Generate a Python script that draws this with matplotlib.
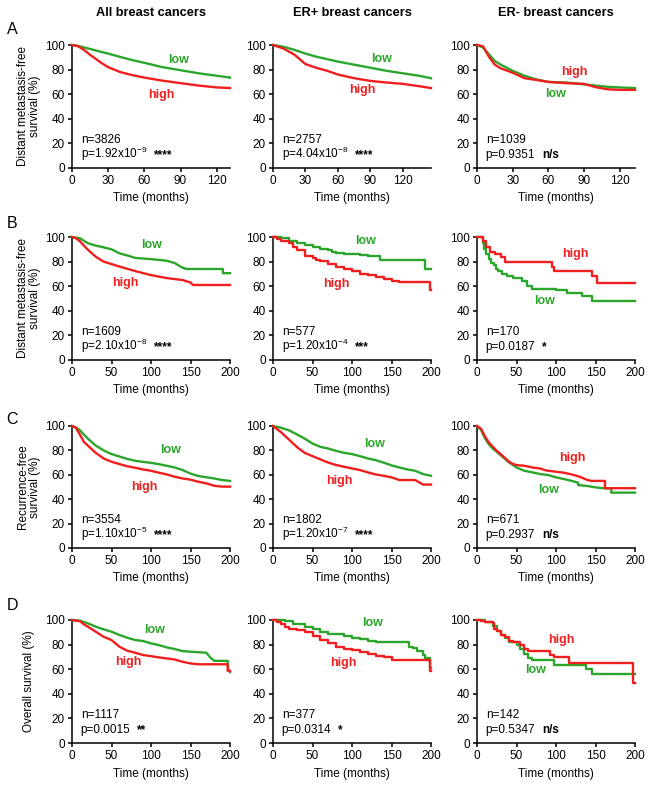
import matplotlib

matplotlib.use("Agg")
import matplotlib.pyplot as plt  # noqa: E402

plt.rcParams["font.family"] = ["Liberation Sans", "DejaVu Sans"]
plt.rcParams["mathtext.fontset"] = "custom"
plt.rcParams["mathtext.rm"] = "Liberation Sans"
plt.rcParams["mathtext.default"] = "regular"

RED = "#f01e1e"
GREEN = "#2ca52c"

# ---- data (time in months, survival in %) ----
# row A: distant metastasis-free survival
a_all_t = [0, 5, 10, 15, 20, 25, 30, 40, 50, 60, 75, 90, 105, 120, 131]
a_all_low = [100, 99.3, 98, 96.8, 95.5, 94.2, 93, 90.3, 87.7, 85.5, 82, 79.5, 77, 75, 73.5]
a_all_high = [100, 99, 96, 92, 88.5, 85, 82, 78, 75.5, 73.5, 71, 69, 67, 65.5, 65]

a_erp_t = [0, 10, 20, 30, 40, 50, 60, 75, 90, 105, 120, 135, 146]
a_erp_low = [100, 98.5, 96, 93, 90.5, 88.5, 86.5, 84, 81.5, 79, 77, 75, 73]
a_erp_high = [100, 97, 92, 84.5, 81.5, 79, 76, 73, 70.8, 69.5, 68.4, 66.5, 65]

a_ern_t = [0, 5, 10, 15, 20, 30, 40, 50, 60, 75, 90, 100, 110, 120, 133]
a_ern_low = [100, 98, 92.5, 87, 84, 79, 75, 72, 70, 69.5, 68, 67, 66, 65.5, 65]
a_ern_high = [100, 99, 90.5, 84, 81, 77.5, 73, 71.6, 70, 69, 68.4, 65.7, 64, 63.5, 63.5]

# row B: distant metastasis-free survival (longer follow-up)
b_all_low_t = [0, 10, 20, 30, 40, 50, 60, 70, 80, 100, 120, 130, 140, 145, 191, 191, 200]
b_all_low = [100, 99, 95, 93, 91.6, 90, 86.7, 85, 83, 82, 80.7, 78.8, 75, 74, 74, 70.6, 70.6]
b_all_high_t = [0, 5, 10, 20, 30, 40, 50, 60, 80, 100, 120, 140, 150, 153, 200]
b_all_high = [100, 99, 96.5, 89.7, 84, 80, 78, 76, 72.3, 69, 66.6, 65, 63, 61, 61]

b_erp_low_t = [0, 10, 20, 30, 40, 50, 60, 70, 75, 80, 90, 100, 110, 120, 135, 140, 192, 200]
b_erp_low = [100, 99.5, 97, 95, 93.5, 92, 90.5, 89.6, 88, 87, 86, 85.8, 85, 84.5, 81.7, 81, 74, 74]
b_erp_high_t = [0, 5, 10, 20, 25, 30, 40, 50, 55, 60, 70, 80, 90, 100, 110, 120, 130, 140,
                150, 160, 199, 200]
b_erp_high = [100, 98, 97, 95.4, 92, 89.4, 84.5, 83, 81, 80.4, 78, 75.7, 73.6, 72.2, 70.3, 69,
              67.6, 66, 64, 63.2, 57, 57]

b_ern_low_t = [0, 7, 9, 12, 15, 18, 21, 24, 27, 32, 38, 45, 57, 63, 70, 100, 114, 133, 145, 200]
b_ern_low = [100, 95, 90, 86, 82, 79, 77, 74, 72, 70, 68, 66.5, 64, 60, 57.8, 56.7, 54.5, 52,
             47.7, 47.7]
b_ern_high_t = [0, 8, 12, 17, 23, 30, 35, 95, 98, 146, 152, 200]
b_ern_high = [100, 97, 92, 88, 86, 84, 80, 76, 72, 68, 63, 63]

# row C: recurrence-free survival
c_all_t = [0, 5, 10, 15, 20, 30, 40, 50, 60, 70, 80, 90, 100, 110, 120, 130, 140, 150, 160,
           170, 180, 190, 200]
c_all_low = [100, 98.8, 96.5, 93, 89.7, 84, 80, 77, 75, 73, 71.5, 70.6, 69.8, 68.7, 67.4, 66,
             63.9, 61, 59, 58, 57, 55.7, 55]
c_all_high = [100, 98.5, 93, 87, 84, 78, 73.4, 70.7, 68.8, 67, 65.8, 64.4, 63.3, 61.7, 60.3,
              58.4, 57, 56, 54.3, 53, 51, 50.3, 50.3]

c_erp_t = [0, 10, 20, 30, 40, 50, 60, 70, 80, 90, 100, 110, 120, 130, 140, 150, 160, 170, 180,
           190, 200]
c_erp_low = [100, 98.6, 96.5, 93.2, 89.7, 85.6, 82.9, 81.5, 79.6, 78, 77, 75.3, 73.4, 72, 70,
             67.7, 66, 64.4, 63.3, 60.6, 59.2]
c_erp_high = [100, 95, 89, 82.9, 78, 75.3, 72.6, 70, 68, 66.6, 65.2, 63.9, 62, 60.3, 59.2, 57.9,
              55.7, 55.7, 55.7, 52, 52]

c_ern_low_t = [0, 5, 10, 15, 20, 25, 30, 40, 50, 60, 70, 80, 90, 100, 110, 120, 128, 128, 140,
               150, 160, 170, 170, 200]
c_ern_low = [100, 97, 90, 85, 81.5, 78.8, 76, 70.5, 66, 63.3, 62, 60.6, 59.8, 57.9, 56.5, 55,
             53.5, 51.6, 50.8, 49.7, 49, 49, 45.4, 45.4]
c_ern_high_t = [0, 5, 10, 15, 20, 25, 30, 40, 45, 50, 60, 70, 80, 85, 90, 100, 110, 120, 130,
                140, 145, 162, 162, 200]
c_ern_high = [100, 97.8, 91.6, 86.4, 83, 79.6, 77, 71, 69, 68, 67.4, 66, 65.2, 64, 63.3, 62.5,
              61.7, 60.3, 58.4, 55.7, 55, 55, 49, 49]

# row D: overall survival
d_all_low_t = [0, 10, 20, 30, 40, 50, 60, 70, 80, 90, 100, 110, 120, 130, 140, 150, 170, 175,
               180, 197, 198, 200]
d_all_low = [100, 99.5, 97.3, 94.6, 92.4, 90.5, 87.8, 85.6, 83.7, 82.9, 81, 79.6, 77.7, 76.4,
             74.7, 74.2, 73.4, 69.6, 66.8, 66.8, 59, 57.6]
d_all_high_t = [0, 10, 15, 20, 30, 40, 50, 60, 70, 80, 90, 100, 110, 120, 130, 140, 150, 160,
                197, 197, 200]
d_all_high = [100, 99, 96.5, 94.6, 90.5, 86.4, 83.7, 78.3, 75, 73.4, 71.5, 70.6, 69.6, 68.7,
              67.9, 66, 64.7, 64, 64, 58.7, 58.7]

d_erp_low_t = [0, 15, 25, 30, 40, 50, 60, 70, 80, 90, 100, 110, 120, 130, 172, 177, 182, 190,
               193, 199, 200]
d_erp_low = [100, 99.5, 97, 96.7, 94.6, 92.4, 90.5, 89, 88.3, 87, 85.6, 84.5, 83.2, 81.8, 78,
             76.9, 75, 71.5, 68.8, 60.6, 60.6]
d_erp_high_t = [0, 5, 10, 15, 20, 30, 40, 50, 60, 70, 80, 90, 100, 110, 120, 130, 140, 150, 199,
                200]
d_erp_high = [100, 98.5, 96.5, 94, 92.4, 91.8, 90, 87.2, 83.7, 81.5, 78.3, 76.4, 75.5, 73.6,
              72.3, 70.9, 69.6, 67.4, 58.7, 58.7]

d_ern_low_t = [0, 10, 20, 25, 30, 35, 40, 50, 55, 60, 65, 70, 97, 138, 145, 200]
d_ern_low = [100, 98.5, 95, 91, 88, 85, 82.5, 80, 76.5, 72, 69, 67.4, 63.3, 59.8, 56, 56]
d_ern_high_t = [0, 5, 10, 20, 22, 25, 30, 35, 40, 45, 55, 60, 65, 93, 98, 116, 197, 200]
d_ern_high = [100, 99, 98, 97.3, 93, 91, 88, 86.4, 83, 82.3, 79.5, 76.6, 74.7, 71.5, 69.6, 65,
              48.4, 48.4]

col_titles = ["All breast cancers", "ER+ breast cancers", "ER- breast cancers"]
row_letters = ["A", "B", "C", "D"]
row_ylabels = ["Distant metastasis-free\nsurvival (%)", "Distant metastasis-free\nsurvival (%)",
               "Recurrence-free\nsurvival (%)", "Overall survival (%)"]
n_labels = [["n=3826", "n=2757", "n=1039"],
            ["n=1609", "n=577", "n=170"],
            ["n=3554", "n=1802", "n=671"],
            ["n=1117", "n=377", "n=142"]]
p_labels = [["p=1.92x10$^{-9}$", "p=4.04x10$^{-8}$", "p=0.9351"],
            ["p=2.10x10$^{-8}$", "p=1.20x10$^{-4}$", "p=0.0187"],
            ["p=1.10x10$^{-5}$", "p=1.20x10$^{-7}$", "p=0.2937"],
            ["p=0.0015", "p=0.0314", "p=0.5347"]]
sig_labels = [["****", "****", "n/s"],
              ["****", "***", "*"],
              ["****", "****", "n/s"],
              ["**", "*", "n/s"]]

# (low_t, low_s, high_t, high_s, drawstyle)
curves = [
    [(a_all_t, a_all_low, a_all_t, a_all_high, "default"),
     (a_erp_t, a_erp_low, a_erp_t, a_erp_high, "default"),
     (a_ern_t, a_ern_low, a_ern_t, a_ern_high, "default")],
    [(b_all_low_t, b_all_low, b_all_high_t, b_all_high, "default"),
     (b_erp_low_t, b_erp_low, b_erp_high_t, b_erp_high, "steps-post"),
     (b_ern_low_t, b_ern_low, b_ern_high_t, b_ern_high, "steps-post")],
    [(c_all_t, c_all_low, c_all_t, c_all_high, "default"),
     (c_erp_t, c_erp_low, c_erp_t, c_erp_high, "default"),
     (c_ern_low_t, c_ern_low, c_ern_high_t, c_ern_high, "default")],
    [(d_all_low_t, d_all_low, d_all_high_t, d_all_high, "default"),
     (d_erp_low_t, d_erp_low, d_erp_high_t, d_erp_high, "steps-post"),
     (d_ern_low_t, d_ern_low, d_ern_high_t, d_ern_high, "steps-post")],
]

# ---- layout (pixels of the 650x785 reference) ----
W, H = 650, 785
row_px = [(45, 168), (237, 360), (426, 548), (620, 743)]
col_px = [72, 273, 477]
ax_w = 158
xmax = [[131, 146, 133], [200, 200, 200], [200, 200, 200], [200, 200, 200]]
letter_y = [30, 223, 419, 605]
# label centres in data coords: (low_x, low_y, high_x, high_y)
label_pos = [
    [(88, 88, 74, 59.5), (100, 89, 82.5, 63.5), (66, 60, 82, 78)],
    [(101, 93.7, 67.5, 62.5), (117, 96.7, 80, 61.8), (86, 47.7, 124, 86)],
    [(125, 80, 91, 50.3), (128.5, 85.6, 84, 55), (90, 47.5, 121, 74)],
    [(105, 91.8, 71.7, 65.5), (126, 97.3, 89, 65), (74, 59, 107, 83.7)],
]

fig = plt.figure(figsize=(W / 100, H / 100), dpi=100)
FS = 8.5

for r in range(4):
    top, bot = row_px[r]
    for c in range(3):
        left = col_px[c]
        ax = fig.add_axes([left / W, 1 - bot / H, ax_w / W, (bot - top) / H])
        lt, ls, ht, hs, ds = curves[r][c]
        ax.plot(lt, ls, color=GREEN, lw=1.7, drawstyle=ds, clip_on=False, zorder=3)
        ax.plot(ht, hs, color=RED, lw=1.7, drawstyle=ds, clip_on=False, zorder=4)
        ax.set_xlim(0, xmax[r][c])
        ax.set_ylim(0, 100)
        ax.set_xticks([0, 30, 60, 90, 120] if r == 0 else [0, 50, 100, 150, 200])
        ax.set_yticks([0, 20, 40, 60, 80, 100])
        for s in ("top", "right"):
            ax.spines[s].set_visible(False)
        for s in ("left", "bottom"):
            ax.spines[s].set_linewidth(1.1)
        ax.tick_params(direction="out", length=3, width=1.1, labelsize=FS, pad=2)
        ax.set_xlabel("Time (months)", fontsize=FS, labelpad=4)

        lx, ly, hx, hy = label_pos[r][c]
        ax.text(lx, ly, "low", color=GREEN, fontsize=9, fontweight="bold",
                ha="center", va="center")
        ax.text(hx, hy, "high", color=RED, fontsize=9, fontweight="bold",
                ha="center", va="center")

        ax.text(0.055, 0.23, n_labels[r][c], transform=ax.transAxes, fontsize=FS,
                ha="left", va="center")
        pt = ax.text(0.055, 0.08, p_labels[r][c], transform=ax.transAxes, fontsize=FS,
                     ha="left", va="baseline")
        ax.annotate(sig_labels[r][c], xy=(1, 0.08), xycoords=(pt, ax.transAxes),
                    xytext=(5, 0), textcoords="offset points", fontsize=FS,
                    fontweight="bold", ha="left", va="baseline")

        if r == 0:
            fig.text((left + ax_w / 2) / W, 1 - 13 / H, col_titles[c], fontsize=9.2,
                     fontweight="bold", ha="center", va="center")

    fig.text(12 / W, 1 - letter_y[r] / H, row_letters[r], fontsize=11.5,
             ha="center", va="center")
    fig.text(29 / W, 1 - (top + bot) / 2 / H, row_ylabels[r], fontsize=FS, rotation=90,
             ha="center", va="center", multialignment="center", linespacing=1.1)

fig.savefig("out.png", dpi=100)
